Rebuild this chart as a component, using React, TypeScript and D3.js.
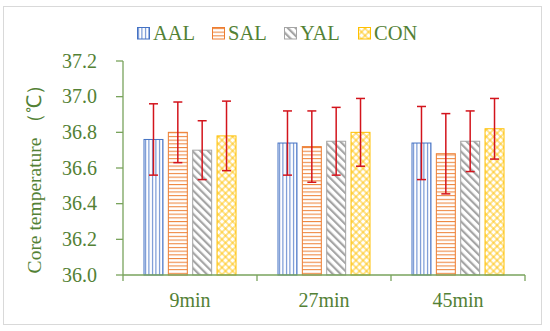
import React from 'react';
import * as d3 from 'd3';

const times = ["9min", "27min", "45min"];
const groups = ["AAL", "SAL", "YAL", "CON"];
// mean core temperature per group, one array per time point
const means = [
  [36.76, 36.80, 36.70, 36.78],
  [36.74, 36.72, 36.75, 36.80],
  [36.74, 36.68, 36.75, 36.82],
];
const errs = [
  [0.20, 0.17, 0.165, 0.195],
  [0.18, 0.20, 0.19, 0.19],
  [0.205, 0.225, 0.17, 0.17],
];
const yTickValues = [36.0, 36.2, 36.4, 36.6, 36.8, 37.0, 37.2];

const width = 550;
const height = 331;
const marginLeft = 123;
const marginRight = 25;
const marginTop = 61;
const marginBottom = 56;
const boundedWidth = width - marginLeft - marginRight;
const boundedHeight = height - marginTop - marginBottom;

const textColor = "#538135";
const axisColor = "#79a35c";
const errColor = "#d3141c";
const colors = ["#4472c4", "#ed7d31", "#a5a5a5", "#ffc000"];
const font = "'Liberation Serif', 'Times New Roman', serif";

type STextProps = {x: number, y: number, anchor?: string, size: number, children: React.ReactNode, rotate?: boolean};
const SText = ({x, y, anchor = "start", size, children, rotate}: STextProps) => (
  <text transform={`translate(${x}, ${y})${rotate ? " rotate(-90)" : ""}`}
    textAnchor={anchor} fontFamily={font} fontSize={size} fill={textColor}>{children}</text>
);

const Patterns = () => (
  <defs>
    <pattern id="pat0" patternUnits="userSpaceOnUse" width={3.5} height={4}>
      <line x1={1.5} x2={1.5} y1={0} y2={4} stroke={colors[0]} strokeWidth={0.9}/>
    </pattern>
    <pattern id="pat1" patternUnits="userSpaceOnUse" width={4} height={3.7}>
      <line y1={1.5} y2={1.5} x1={0} x2={4} stroke={colors[1]} strokeWidth={1}/>
    </pattern>
    <pattern id="pat2" patternUnits="userSpaceOnUse" width={5.5} height={5.5} patternTransform="rotate(-45)">
      <line x1={2} x2={2} y1={0} y2={5.5} stroke={colors[2]} strokeWidth={2.2}/>
    </pattern>
    <pattern id="pat3" patternUnits="userSpaceOnUse" width={5} height={5} patternTransform="rotate(45)">
      <line x1={1} x2={1} y1={0} y2={5} stroke={colors[3]} strokeWidth={0.9}/>
      <line y1={1} y2={1} x1={0} x2={5} stroke={colors[3]} strokeWidth={0.9}/>
    </pattern>
  </defs>
);

const App: React.FC = () => {
  const xScale = d3.scaleBand<string>().domain(times).range([0, boundedWidth]);
  const inner = d3.scaleBand<string>().domain(groups)
    .range([20.5, xScale.bandwidth() - 20.5]).paddingInner(0.18);
  const yScale = d3.scaleLinear().domain([36.0, 37.2]).range([boundedHeight, 0]);
  const capW = 4.5;

  return (
    <svg width={width} height={height} style={{position: "absolute", left: 0, top: 0, background: "white"}}>
      <Patterns/>
      <rect x={3.5} y={6.5} width={538} height={318} fill="white" stroke="#d9d9d9" strokeWidth={1}/>

      {/* legend */}
      {groups.map((g, i) => {
        const lx = [137, 212, 284, 358][i];
        return (
          <g key={g} transform={`translate(${lx}, 27)`}>
            <rect x={0.5} y={0.5} width={12} height={11.5} fill={`url(#pat${i})`} stroke={colors[i]} strokeWidth={1}/>
            <SText x={16} y={12.5} size={20.5}>{g}</SText>
          </g>
        );
      })}

      {/* y label */}
      <SText x={41} y={174} anchor="middle" size={19.5} rotate>Core temperature （℃）</SText>

      <g transform={`translate(${marginLeft}, ${marginTop})`}>
        {/* y axis */}
        <line x1={0} x2={0} y1={0} y2={boundedHeight} stroke={axisColor} strokeWidth={1.3}/>
        {yTickValues.map(v => (
          <g key={v}>
            <line x1={-7} x2={0} y1={yScale(v)} y2={yScale(v)} stroke={axisColor} strokeWidth={1.3}/>
            <SText x={-26} y={yScale(v) + 6.7} anchor="end" size={20}>{v.toFixed(1)}</SText>
          </g>
        ))}

        {/* bars */}
        {times.map((t, ti) => (
          <g key={t} transform={`translate(${xScale(t)}, 0)`}>
            {groups.map((g, gi) => {
              const x = inner(g)!;
              const w = inner.bandwidth();
              const y = yScale(means[ti][gi]);
              return (
                <rect key={g} x={x + 0.5} y={y} width={w - 1} height={boundedHeight - y}
                  fill={`url(#pat${gi})`} stroke={colors[gi]} strokeWidth={1}/>
              );
            })}
            {groups.map((g, gi) => {
              const cx = inner(g)! + inner.bandwidth() / 2;
              const hi = yScale(means[ti][gi] + errs[ti][gi]);
              const lo = yScale(means[ti][gi] - errs[ti][gi]);
              return (
                <g key={g} stroke={errColor} strokeWidth={1.5}>
                  <line x1={cx} x2={cx} y1={hi} y2={lo}/>
                  <line x1={cx - capW} x2={cx + capW} y1={hi} y2={hi}/>
                  <line x1={cx - capW} x2={cx + capW} y1={lo} y2={lo}/>
                </g>
              );
            })}
          </g>
        ))}

        {/* x axis */}
        <g transform={`translate(0, ${boundedHeight})`}>
          <line x1={0} x2={boundedWidth} stroke={axisColor} strokeWidth={1.3}/>
          {[...times.map(t => xScale(t)!), boundedWidth].map((o, i) => (
            <line key={i} x1={o} x2={o} y1={0} y2={6} stroke={axisColor} strokeWidth={1.3}/>
          ))}
          {times.map(t => (
            <SText key={t} x={xScale(t)! + xScale.bandwidth() / 2} y={31.7} anchor="middle" size={20}>{t}</SText>
          ))}
        </g>
      </g>
    </svg>
  );
};

export default App;
